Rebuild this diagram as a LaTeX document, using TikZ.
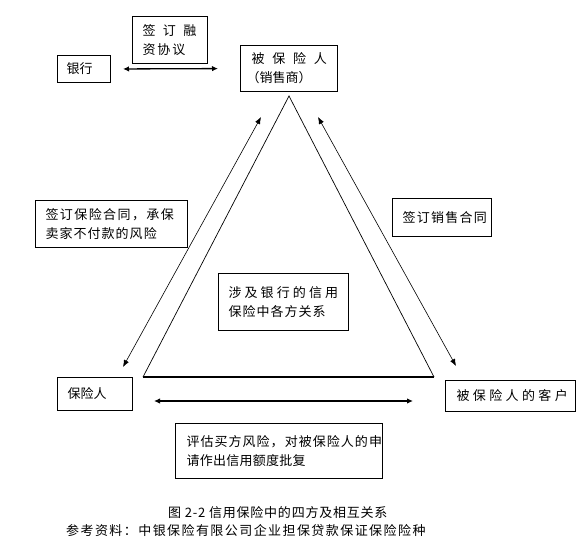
\documentclass[tikz,border=0pt]{standalone}
\usepackage{fontspec}
\setmainfont{Noto Sans CJK SC}
\usetikzlibrary{arrows.meta}
\newcommand{\ls}[2]{{\addfontfeatures{LetterSpace=#1}#2}}
\begin{document}
\begin{tikzpicture}[x=1pt,y=-1pt,
  font=\fontsize{13}{19}\selectfont,
  bx/.style={draw, line width=1pt, anchor=north west, align=left, inner ysep=0pt},
  conn/.style={line width=0.6pt, {Latex[length=7pt,width=5.5pt]}-{Latex[length=7pt,width=5.5pt]}},
  hconn/.style={line width=1.3pt, {Latex[length=6pt,width=5.5pt]}-{Latex[length=6pt,width=5.5pt]}}]
\useasboundingbox (0,0) rectangle (580,546);

% boxes
\node[bx, minimum width=53pt, minimum height=27pt, inner xsep=9pt, text width=35pt] (bank) at (57,55) {银行};
\node[bx, minimum width=75pt, minimum height=47pt, inner xsep=10pt, text width=55pt] (fin) at (132,16) {\ls{57}{签订融}\\\ls{15}{资协议}};
\node[bx, minimum width=97pt, minimum height=46pt, inner xsep=11pt, text width=75pt] (ins) at (240,45) {\ls{60}{被保险人}\\\hspace*{-5pt}（销售商）};
\node[bx, minimum width=152pt, minimum height=47pt, inner xsep=10pt, text width=132pt] (c1) at (35,200) {\ls{11}{签订保险合同，承保}\\\ls{8}{卖家不付款的风险}};
\node[bx, minimum width=99pt, minimum height=38pt, inner xsep=10pt, text width=79pt] (sales) at (392,198) {\ls{10}{签订销售合同}};
\node[bx, minimum width=130pt, minimum height=57pt, inner xsep=10pt, text width=110pt] (inv) at (218,273) {\ls{24}{涉及银行的信用}\\\ls{8}{保险中各方关系}};
\node[bx, minimum width=75pt, minimum height=33pt, inner xsep=10pt, text width=55pt] (insurer) at (57,377) {保险人};
\node[bx, minimum width=130pt, minimum height=31pt, inner xsep=11pt, text width=108pt] (cust) at (445,380) {\ls{26}{被保险人的客户}};
\node[bx, minimum width=207pt, minimum height=55pt, inner xsep=11pt, text width=185pt] (eval) at (175,423) {\ls{8}{评估买方风险，对被保险人的申}\\\ls{2}{请作出信用额度批复}};

% captions
\node[anchor=west, inner sep=0pt] (cap1) at (168,513) {\ls{6}{图 2-2 信用保险中的四方及相互关系}};
\node[anchor=west, inner sep=0pt] (cap2) at (66,531) {\ls{11}{参考资料：中银保险有限公司企业担保贷款保证保险险种}};

% triangle
\coordinate (A) at (289,96);
\coordinate (B) at (143,377);
\coordinate (C) at (434,377);
\draw[line width=0.7pt] (B) -- (A) -- (C);
\draw[line width=1.3pt] (B) -- (C);

% arrows
\coordinate (l1) at (261,117); \coordinate (l2) at (123,367);
\coordinate (r1) at (318,117); \coordinate (r2) at (456,366);
\coordinate (b1) at (154,401); \coordinate (b2) at (413,401);
\draw[hconn, shorten <=12pt, shorten >=22pt] (bank.east) -- (ins.west);
\draw[conn] (l1) -- (l2);
\draw[conn] (r1) -- (r2);
\draw[hconn] (b1) -- (b2);
\end{tikzpicture}
\end{document}
